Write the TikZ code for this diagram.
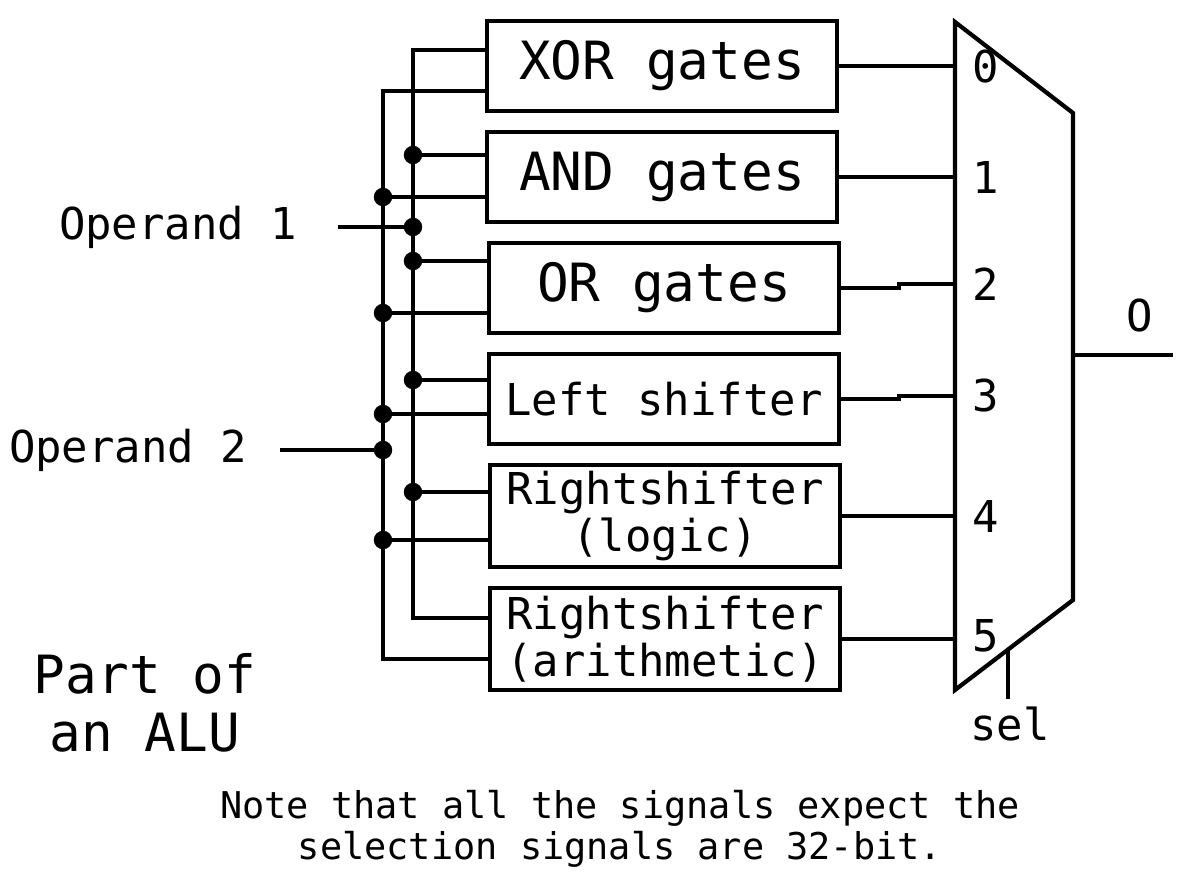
\documentclass[tikz,border=0pt]{standalone}
\usepackage{fontspec}
\setmainfont{DejaVu Sans Mono}
\usetikzlibrary{positioning}
\begin{document}
\begin{tikzpicture}[x=0.02cm,y=-0.02cm,line width=2.4pt]
        \tikzstyle{every node}=[font=\fontsize{25}{27}\selectfont]
        \tikzstyle{unit}=[draw,rectangle,minimum width=7cm,minimum height=1.8cm,inner sep=0pt,align=center]
        \tikzstyle{tall unit}=[unit,minimum height=2.04cm]
        \tikzstyle{big}=[font=\fontsize{30}{33}\selectfont]
        \tikzstyle{dot}=[circle,fill=black,inner sep=0pt,minimum size=10.5pt]
        \useasboundingbox (0,0) rectangle (1188,881);

        % Draw the functional units
        \node[unit,big] (xor) at (662,66) {XOR gates};
        \node[unit,big] (and) at (662,177) {AND gates};
        \node[unit,big] (or) at (664,288) {OR gates};
        \node[unit] (ls) at (664,399) {Left shifter};
        \node[tall unit] (rl) at (665,516) {Rightshifter\\(logic)};
        \node[tall unit] (ra) at (665,639) {Rightshifter\\(arithmetic)};

        % Draw the multiplexer
        \draw (955,22) coordinate (m1) -- (1073,113) -- (1073,600) -- (955,690) -- cycle;
        \foreach \i/\y in {0/67,1/177,2/284,3/396,4/516,5/636}
            \node[anchor=west,inner sep=0pt] (in\i) at (970,\y) {\i};
        \coordinate (mout) at (1073,355);
        \coordinate (oend) at (1173,355);
        \draw (mout) -- (oend);
        \node (olab) at (1140,316) {O};
        \coordinate (selt) at (1008,648);
        \node (sel) at (1010,724) {sel};
        \draw (selt) -- (selt |- sel.north);

        % Connect the units with the multiplexer
        \draw (xor.east) -- (xor.east -| m1);
        \draw (and.east) -- (and.east -| m1);
        \draw (or.east) -- ++(58,0) |- (in2.west -| m1);
        \draw (ls.east) -- ++(58,0) |- (in3.west -| m1);
        \draw (rl.east) -- (rl.east -| m1);
        \draw (ra.east) -- (ra.east -| m1);

        % Operand buses
        \node[anchor=east] (op1) at (305,227) {Operand 1};
        \node[anchor=east] (op2) at (255,450) {Operand 2};
        \coordinate (b1) at (413,227);
        \coordinate (b2) at (383,456);
        \draw (op1.east) ++(33,0) coordinate (op1s) -- (b1);
        \draw (op2.east) ++(25,0) coordinate (op2s) -- (op2s -| b2) coordinate (b2j);
        \node[dot] at (b1) {};
        \node[dot] at (b2j) {};
        \foreach \u/\ya/\yb in {xor/50/91,and/155/197,or/261/313,ls/380/414,rl/492/540,ra/618/659} {
            \coordinate (\u-a) at (\u.west |- 0,\ya);
            \coordinate (\u-b) at (\u.west |- 0,\yb);
            \draw (\u-a) -- (\u-a -| b1);
            \draw (\u-b) -- (\u-b -| b2);
        }
        \draw (xor-a) -| (b1) |- (ra-a);
        \draw (xor-b) -| (b2) |- (ra-b);
        \foreach \u in {and,or,ls,rl} {
            \node[dot] at (\u-a -| b1) {};
            \node[dot] at (\u-b -| b2) {};
        }

        % Annotations
        \node[big,align=center] (alu) at (145,703) {Part of\\an ALU};
        \node[align=center,font=\fontsize{21}{23}\selectfont] (note) at (620,829) {Note that all the signals expect the\\selection signals are 32-bit.};
\end{tikzpicture}
\end{document}
